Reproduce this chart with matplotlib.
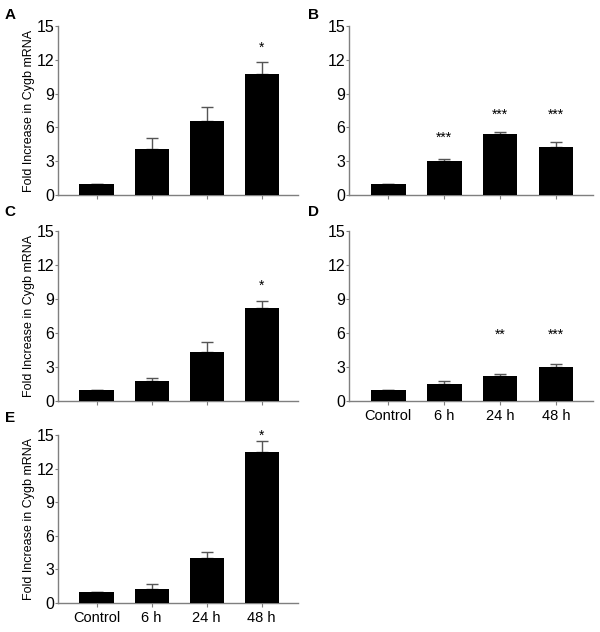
"""Cygb mRNA fold increase, five panels (A-E)."""

import numpy as np
import matplotlib
matplotlib.use("Agg")
import matplotlib.pyplot as plt

plt.rcParams["font.family"] = ["Liberation Sans", "DejaVu Sans"]

categories = ["Control", "6 h", "24 h", "48 h"]

mean_a = [1.0, 4.08, 6.6, 10.74]
err_a = [0.0, 1.0, 1.24, 1.09]
mean_b = [1.0, 3.05, 5.38, 4.26]
err_b = [0.0, 0.13, 0.24, 0.47]
mean_c = [1.0, 1.79, 4.32, 8.18]
err_c = [0.0, 0.27, 0.92, 0.64]
mean_d = [1.0, 1.53, 2.18, 3.03]
err_d = [0.0, 0.26, 0.17, 0.21]
mean_e = [1.0, 1.28, 4.01, 13.51]
err_e = [0.0, 0.41, 0.53, 0.95]

stars_a = ["", "", "", "*"]
stars_b = ["", "***", "***", "***"]
stars_c = ["", "", "", "*"]
stars_d = ["", "", "**", "***"]
stars_e = ["", "", "", "*"]

star_y_a = [0, 0, 0, 13.1]
star_y_b = [0, 5.1, 7.1, 7.1]
star_y_c = [0, 0, 0, 10.2]
star_y_d = [0, 0, 5.8, 5.8]
star_y_e = [0, 0, 0, 14.95]

yticks = [0, 3, 6, 9, 12, 15]
ylabel = "Fold Increase in Cygb mRNA"

GREY = "#7f7f7f"


def draw_panel(ax, means, errs, stars, star_y, letter, ylab, xlabels, lx):
    x = np.arange(len(categories))
    ax.errorbar(x, means, yerr=[np.zeros(len(errs)), errs], fmt="none",
                ecolor="#555555", elinewidth=1, capsize=4, capthick=1, zorder=2)
    ax.bar(x, means, width=0.62, color="black", zorder=3)
    for xi, s, sy in zip(x, stars, star_y):
        if s:
            ax.text(xi, sy, s, ha="center", va="center", fontsize=10)
    ax.set_ylim(0, 15)
    ax.set_yticks(yticks)
    ax.set_xlim(-0.7, 3.66)
    ax.set_xticks(x)
    if xlabels:
        ax.set_xticklabels(categories, fontsize=10.5)
    else:
        ax.set_xticklabels([])
    ax.tick_params(axis="y", labelsize=11.5, length=2, color=GREY, pad=0.5)
    ax.tick_params(axis="x", length=3, color=GREY, pad=3)
    for side in ("top", "right"):
        ax.spines[side].set_visible(False)
    for side in ("left", "bottom"):
        ax.spines[side].set_color(GREY)
        ax.spines[side].set_linewidth(1)
    if ylab:
        ax.set_ylabel(ylabel, fontsize=9, labelpad=1)
    ax.figure.text(lx[0], lx[1], letter, fontsize=11, fontweight="bold",
                   ha="left", va="center")


fig = plt.figure(figsize=(6.0, 6.32), dpi=100)

ax_a = fig.add_axes([0.0967, 0.6915, 0.400, 0.2674])
ax_b = fig.add_axes([0.5817, 0.6915, 0.4067, 0.2674])
ax_c = fig.add_axes([0.0967, 0.3655, 0.400, 0.2690])
ax_d = fig.add_axes([0.5817, 0.3655, 0.4067, 0.2690])
ax_e = fig.add_axes([0.0967, 0.0459, 0.400, 0.2658])

draw_panel(ax_a, mean_a, err_a, stars_a, star_y_a, "A", True, False, (0.008, 0.976))
draw_panel(ax_b, mean_b, err_b, stars_b, star_y_b, "B", False, False, (0.513, 0.976))
draw_panel(ax_c, mean_c, err_c, stars_c, star_y_c, "C", True, False, (0.008, 0.664))
draw_panel(ax_d, mean_d, err_d, stars_d, star_y_d, "D", False, True, (0.513, 0.664))
draw_panel(ax_e, mean_e, err_e, stars_e, star_y_e, "E", True, True, (0.008, 0.338))

fig.savefig("out.png", dpi=100)
